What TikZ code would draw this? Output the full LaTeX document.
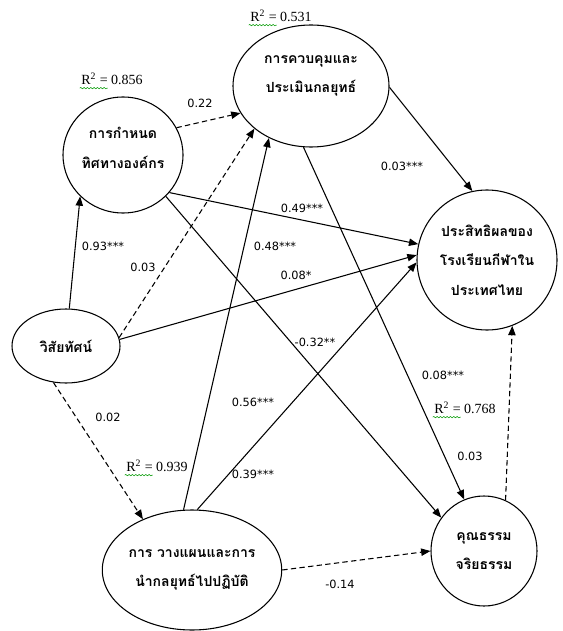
\documentclass[tikz,border=0pt]{standalone}
\usepackage{fontspec}
\setmainfont{Liberation Serif}
\newfontfamily\thaifont[Script=Thai]{Loma}
\newfontfamily\numfont{DejaVu Sans}
\usetikzlibrary{shapes.geometric}
\usetikzlibrary{arrows.meta}
\usetikzlibrary{decorations.pathmorphing}

\begin{document}
\begin{tikzpicture}[x=0.75pt,y=-0.75pt,
	latent/.style={draw,ellipse,inner sep=0pt,line width=0.8pt,align=center,font=\thaifont\bfseries\fontsize{10.5}{22}\selectfont},
	thai/.style={align=center,inner sep=0pt,font=\thaifont\bfseries\fontsize{10.5}{22}\selectfont},
	sigpath/.style={-{Triangle[length=7pt,width=5.5pt]},line width=0.8pt},
	nspath/.style={sigpath,dash pattern=on 4pt off 2.5pt},
	coef/.style={font=\numfont\fontsize{8.5}{10}\selectfont,inner sep=1pt},
	rsq/.style={font=\fontsize{10.5}{12}\selectfont,inner sep=1pt},
	squig/.style={draw=green!60!black,decorate,decoration={snake,amplitude=0.5pt,segment length=2.5pt},line width=0.4pt}]
					\useasboundingbox (0,0) rectangle (562,631);
					\node[latent,minimum width=81pt,minimum height=55.5pt] (vis) at (66,346) {วิสัยทัศน์};
					\node[latent,minimum width=90pt,minimum height=87pt] (dir) at (123,155) {};
					\node[thai] (dirt) at (123,148) {การกำหนด\\ทิศทางองค์กร};
					\node[latent,minimum width=117pt,minimum height=91.5pt] (ctl) at (311,86) {};
					\node[thai] (ctlt) at (311,76) {การควบคุมและ\\ประเมินกลยุทธ์};
					\node[latent,minimum width=105pt,minimum height=105pt] (eff) at (487,260) {ประสิทธิผลของ\\โรงเรียนกีฬาใน\\ประเทศไทย};
					\node[latent,minimum width=79.5pt,minimum height=82.5pt] (mor) at (484,551) {คุณธรรม\\จริยธรรม};
					\node[latent,minimum width=124.5pt,minimum height=90pt] (pln) at (192,570) {การ วางแผนและการ\\นำกลยุทธ์ไปปฏิบัติ};

					\draw[sigpath] (vis.85) -- (dir.224);
					\draw[nspath] (vis.9) -- (ctl.217);
					\draw[sigpath] (vis.7) -- (eff.176);
					\draw[nspath] (vis.251) -- (pln.134);
					\draw[nspath] (dir.27) -- (ctl.201);
					\draw[sigpath] (dir.321) -- (eff.167);
					\draw[sigpath] (dir.316) -- (mor.142);
					\draw[sigpath] (ctl.-1) -- (eff.102);
					\draw[sigpath] (ctl.263) -- (mor.111);
					\draw[sigpath] (pln.98) -- (ctl.231);
					\draw[sigpath] (pln.85) -- (eff.182);
					\draw[nspath] (pln.0) -- (mor.180);
					\draw[nspath] (mor.67) -- (eff.291);

					\node[coef] (c022) at (200,103) {0.22};
					\node[coef] (c049) at (302,208) {0.49***};
					\node[coef] (c093) at (103,246) {0.93***};
					\node[coef] (c003a) at (143,267) {0.03};
					\node[coef] (c048) at (275,246) {0.48***};
					\node[coef] (c008a) at (296,275) {0.08*};
					\node[coef] (c032) at (315,342) {-0.32**};
					\node[coef] (c056) at (253,402) {0.56***};
					\node[coef] (c002) at (108,417) {0.02};
					\node[coef] (c039) at (253,474) {0.39***};
					\node[coef] (c003b) at (402,166) {0.03***};
					\node[coef] (c008b) at (443,375) {0.08***};
					\node[coef] (c003c) at (470,456) {0.03};
					\node[coef] (c014) at (340,584) {-0.14};

					\node[rsq] (r856) at (112,79) {R\textsuperscript{2} = 0.856};
					\node[rsq] (r531) at (281,16) {R\textsuperscript{2} = 0.531};
					\node[rsq] (r939) at (157,466) {R\textsuperscript{2} = 0.939};
					\node[rsq] (r768) at (465,408) {R\textsuperscript{2} = 0.768};
					\draw[squig] ([yshift=-2.5pt]r856.base west) -- ++(21pt,0);
					\draw[squig] ([yshift=-2.5pt]r531.base west) -- ++(21pt,0);
					\draw[squig] ([yshift=-2.5pt]r939.base west) -- ++(21pt,0);
					\draw[squig] ([yshift=-2.5pt]r768.base west) -- ++(21pt,0);
				\end{tikzpicture}
\end{document}
